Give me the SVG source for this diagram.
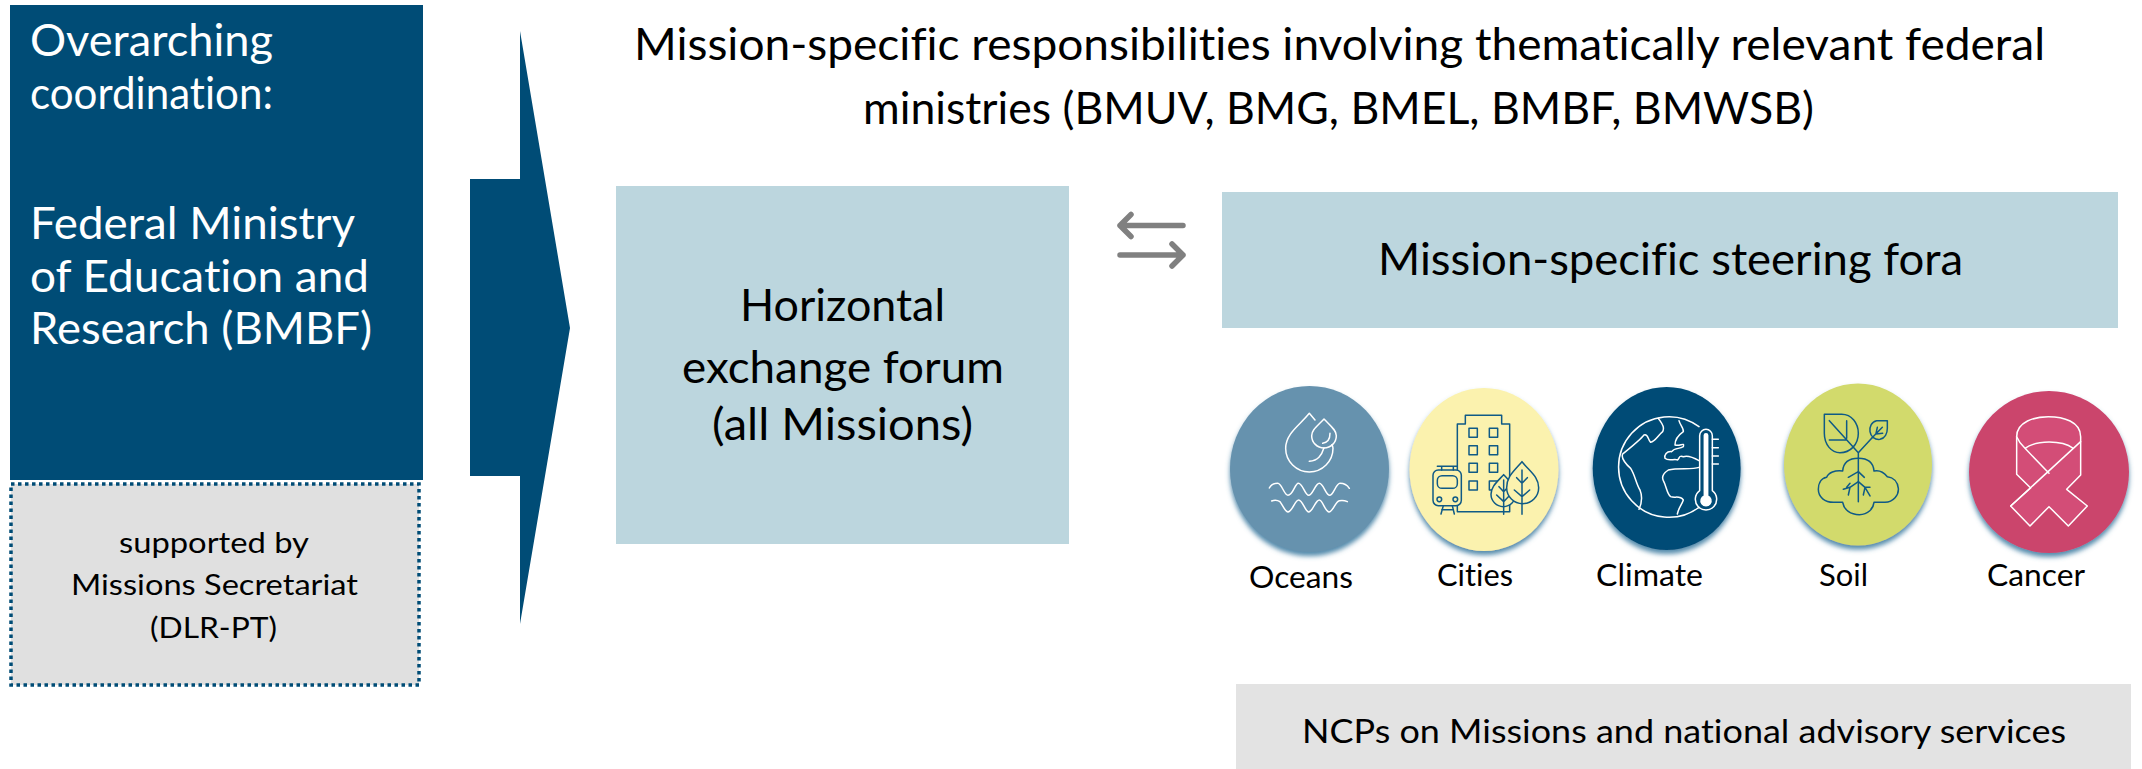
<svg xmlns="http://www.w3.org/2000/svg" width="2142" height="769" viewBox="0 0 2142 769">
<defs>
<style>
text{font-family:"Lato","Carlito","Liberation Sans",sans-serif;fill:#000;font-variant-ligatures:none}
.big{font-size:45px}
.sm{font-size:29px}
.lab{font-size:31px}
.w{fill:#fff}
.ico{fill:none;stroke-linejoin:round;stroke-linecap:round;stroke-width:4.5}
.iw{stroke:#fff}
.ib{stroke:#0f5a86}
.dbl{fill:none;stroke:#808080;stroke-width:5.5;stroke-linecap:round;stroke-linejoin:round}
</style>
<filter id="sh" x="-10%" y="-10%" width="120%" height="125%"><feDropShadow dx="0" dy="4" stdDeviation="2.5" flood-color="#3f7ea3" flood-opacity="0.9"/></filter>
</defs>
<rect width="2142" height="769" fill="#fff"/>
<g id="connectors">
<polygon points="470,179 520,179 520,31 570,328 520,624 520,476 470,476" fill="#004c76"/>
<path class="dbl" d="M1183 225.5H1120M1131 214.5L1120 225.5L1131 236.5"/>
<path class="dbl" d="M1120 255H1183M1172 244L1183 255L1172 266"/>
</g>
<g id="node-coordination">
<rect x="10" y="5" width="413" height="475" fill="#004c76"/>
<text class="big w" x="30" y="56" textLength="243" lengthAdjust="spacingAndGlyphs">Overarching</text>
<text class="big w" x="30" y="109" textLength="243" lengthAdjust="spacingAndGlyphs">coordination:</text>
<text class="big w" x="30" y="239" textLength="325" lengthAdjust="spacingAndGlyphs">Federal Ministry</text>
<text class="big w" x="30" y="292" textLength="339" lengthAdjust="spacingAndGlyphs">of Education and</text>
<text class="big w" x="30" y="344" textLength="342" lengthAdjust="spacingAndGlyphs">Research (BMBF)</text>
</g>
<g id="node-secretariat">
<rect x="11" y="484" width="408" height="201" fill="#e0e0e0" stroke="#004c76" stroke-width="3.5" stroke-dasharray="3.5 3.5"/>
<text class="sm" x="119" y="553" textLength="190" lengthAdjust="spacingAndGlyphs">supported by</text>
<text class="sm" x="71" y="595" textLength="287" lengthAdjust="spacingAndGlyphs">Missions Secretariat</text>
<text class="sm" x="150" y="638" textLength="127" lengthAdjust="spacingAndGlyphs">(DLR-PT)</text>
</g>
<g id="node-title">
<text class="big" x="634" y="60" textLength="1411" lengthAdjust="spacingAndGlyphs">Mission-specific responsibilities involving thematically relevant federal</text>
<text class="big" x="863" y="124" textLength="951" lengthAdjust="spacingAndGlyphs">ministries (BMUV, BMG, BMEL, BMBF, BMWSB)</text>
</g>
<g id="node-horizontal">
<rect x="616" y="186" width="453" height="358" fill="#bcd6de"/>
<text class="big" x="740" y="321" textLength="205" lengthAdjust="spacingAndGlyphs">Horizontal</text>
<text class="big" x="682" y="383" textLength="322" lengthAdjust="spacingAndGlyphs">exchange forum</text>
<text class="big" x="712" y="440" textLength="261" lengthAdjust="spacingAndGlyphs">(all Missions)</text>
</g>
<g id="node-steering">
<rect x="1222" y="192" width="896" height="136" fill="#bcd6de"/>
<text class="big" x="1378" y="275" textLength="585" lengthAdjust="spacingAndGlyphs">Mission-specific steering fora</text>
</g>
<g id="node-oceans">
<ellipse cx="1309.5" cy="469" rx="79.5" ry="83" fill="#6692ae" filter="url(#sh)"/>
<g transform="translate(1200 370) scale(.33333)" class="ico iw">
<path d="M345 150L328 130C300 165 257 190 257 235A71 71 0 0 0 399 235C399 232 398 228 396 224"/>
<path d="M372 147C350 170 335 180 335 197A37 37 0 0 0 409 197C409 180 392 168 372 147Z"/>
<path d="M390 190C390 208 382 218 368 220M328 274C355 272 365 255 372 233"/>
<path d="M208 354C214 342 224 340 233 340C246 340 252 376 264 376C279 376 285 340 295 340C308 340 315 376 326 376C338 376 346 340 358 340C370 340 378 376 389 376C400 376 408 340 420 340C434 340 442 346 448 355"/>
<path d="M215 393C222 390 232 390 240 395C248 405 255 426 264 426C276 426 285 390 296 390C308 390 316 426 326 426C338 426 346 390 358 390C368 390 376 426 387 426C398 426 406 395 418 392C428 390 436 392 442 395"/>
</g>
<text class="lab" x="1249" y="588" textLength="104" lengthAdjust="spacingAndGlyphs">Oceans</text>
</g>
<g id="node-cities">
<ellipse cx="1484" cy="469.5" rx="74.5" ry="81.5" fill="#fbf2ae" filter="url(#sh)"/>
<g transform="translate(1425 405) scale(.33333)" class="ico ib">
<path d="M97 320V57H121V31H230V57H254V320Z"/>
<path d="M132 70h25v27h-25zM193 70h25v27h-25zM132 122h25v27h-25zM193 122h25v27h-25zM132 175h25v27h-25zM193 175h25v27h-25zM132 228h25v27h-25zM193 228h25v27h-25z"/>
<rect x="24" y="195" width="85" height="107" rx="16" fill="#fbf2ae"/>
<rect x="37" y="212" width="60" height="38" rx="14"/>
<circle cx="43" cy="283" r="7"/><circle cx="91" cy="283" r="7"/>
<path d="M37 184H96M50 184V195M85 184V195M55 302L48 327M82 302L88 327M50 314H85"/>
<path d="M236 209C215 232 198 245 198 268A37 37 0 0 0 272 268C272 245 257 232 236 209Z" fill="#fbf2ae"/>
<path d="M236 225V328M236 260L222 245M236 260L250 245M236 290L215 270M236 290L255 270"/>
<path d="M291 170C265 200 245 215 245 248A48 48 0 0 0 341 248C341 215 315 200 291 170Z" fill="#fbf2ae"/>
<path d="M291 195V328M291 235L275 218M291 235L307 218M291 275L268 255M291 275L314 255"/>
</g>
<text class="lab" x="1437" y="586" textLength="76" lengthAdjust="spacingAndGlyphs">Cities</text>
</g>
<g id="node-climate">
<ellipse cx="1666.7" cy="468.5" rx="74" ry="81.5" fill="#004c76" filter="url(#sh)"/>
<g transform="translate(1600 390) scale(.33333)" class="ico iw">
<path d="M297 110A151 151 0 1 0 297 352"/>
<path d="M175 85C185 100 195 110 188 125C175 135 165 155 152 157C143 150 145 130 132 135C120 150 95 170 68 192C62 205 80 225 92 235C105 255 108 280 120 300C128 320 125 340 117 358"/>
<path d="M237 92C240 105 252 115 250 125C240 132 225 145 225 165C240 170 255 155 250 170C238 178 225 172 215 185C200 183 192 195 195 205C205 215 225 205 232 210C240 205 235 195 250 200C265 195 285 205 297 212"/>
<path d="M297 232C275 240 235 232 205 240C190 250 185 262 190 272C200 290 200 310 212 320C225 325 240 315 250 330C245 345 235 355 232 372"/>
<path d="M299 302V137A19 19 0 0 1 337 137V302A32 32 0 1 1 299 302Z"/>
<path d="M337 148H355M337 173H355M337 198H355M337 222H355"/>
<path d="M313 136A5 5 0 0 1 323 136V318A15 15 0 1 1 313 318Z" fill="#fff"/>
</g>
<text class="lab" x="1596" y="586" textLength="107" lengthAdjust="spacingAndGlyphs">Climate</text>
</g>
<g id="node-soil">
<ellipse cx="1858" cy="464.5" rx="74" ry="81" fill="#d2da6c" filter="url(#sh)"/>
<g transform="translate(1700 370) scale(.33333)" class="ico ib">
<path d="M373 133H425C455 133 475 160 475 190C475 225 450 248 420 248C395 248 373 225 373 190Z"/>
<path d="M388 152L475 248M440 152V205M388 210H440M475 248V395M475 248L515 205"/>
<path d="M562 152H530C515 155 508 170 510 185C512 200 525 210 540 208C555 205 562 190 562 175Z"/>
<path d="M515 205L547 172M528 190L532 172M528 192L548 190"/>
<path d="M475 265C445 265 430 280 428 303C405 300 385 308 380 322C360 325 355 345 355 358C355 382 375 397 400 397H428C432 420 452 434 478 434C505 434 520 415 522 397H555C580 397 597 375 595 355C593 335 580 322 562 320C550 305 535 300 522 303C520 280 505 265 475 265Z"/>
<path d="M475 305L445 322M475 305L493 322M475 335L450 352L430 358M450 352L445 375M450 340L440 352M475 335L495 352L510 352M495 352L510 378M495 352L490 375"/>
</g>
<text class="lab" x="1819" y="586" textLength="49" lengthAdjust="spacingAndGlyphs">Soil</text>
</g>
<g id="node-cancer">
<ellipse cx="2049" cy="472" rx="80" ry="81" fill="#cb446c" filter="url(#sh)"/>
<g transform="translate(1700 370) scale(.33333)" class="ico iw">
<path d="M950 200C950 155 1005 140 1045 140C1090 140 1142 155 1142 200V315L1100 358L1162 408L1105 468L1047 410L990 468L932 408L992 354L950 313Z" fill="#d34d77"/>
<path d="M950 200C955 212 965 225 975 235L1047 310M1142 215L932 408M975 235C1010 210 1085 210 1120 235"/>
</g>
<text class="lab" x="1987" y="586" textLength="98" lengthAdjust="spacingAndGlyphs">Cancer</text>
</g>
<g id="node-ncp">
<rect x="1236" y="684" width="895" height="85" fill="#e3e3e3"/>
<text x="1302" y="743" font-size="33" textLength="764" lengthAdjust="spacingAndGlyphs">NCPs on Missions and national advisory services</text>
</g>
</svg>
